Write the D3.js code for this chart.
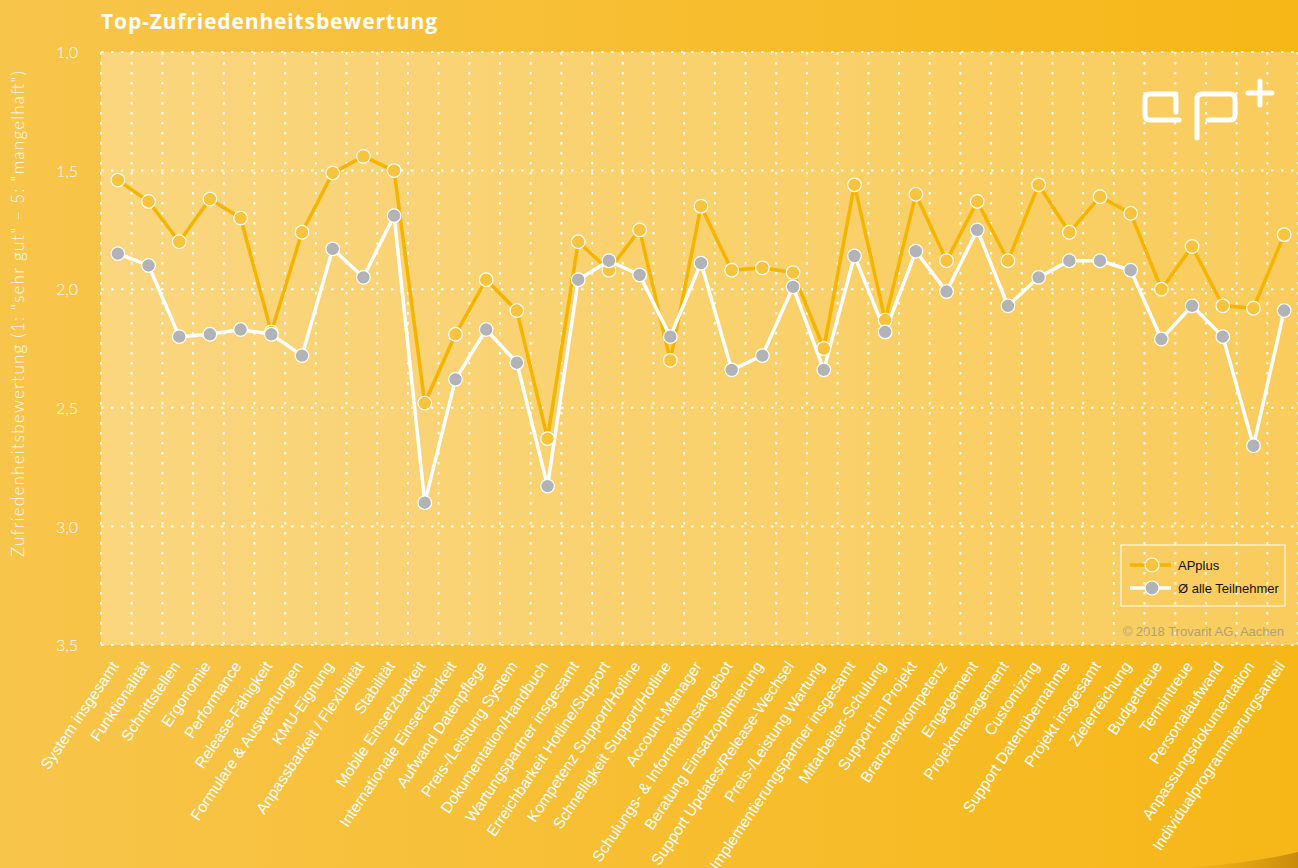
<!DOCTYPE html>
<html>
<head>
<meta charset="utf-8">
<script src="https://cdn.jsdelivr.net/npm/d3@7"></script>
<style>
  html, body { margin: 0; padding: 0; background: #f7bd30; }
  #chart svg { display: block; }
</style>
</head>
<body>
<div id="chart"></div>
<script>
// categories (x axis)
var categories = [
    'System insgesamt', 'Funktionalität', 'Schnittstellen', 'Ergonomie', 'Performance',
    'Release-Fähigkeit', 'Formulare & Auswertungen', 'KMU-Eignung', 'Anpassbarkeit / Flexibilität',
    'Stabilität', 'Mobile Einsetzbarkeit', 'Internationale Einsetzbarkeit', 'Aufwand Datenpflege',
    'Preis-/Leistung System', 'Dokumentation/Handbuch', 'Wartungspartner insgesamt',
    'Erreichbarkeit Hotline/Support', 'Kompetenz Support/Hotline', 'Schnelligkeit Support/Hotline',
    'Account-Manager', 'Schulungs- & Informationsangebot', 'Beratung Einsatzoptimierung',
    'Support Updates/Release-Wechsel', 'Preis-/Leistung Wartung', 'Implementierungspartner insgesamt',
    'Mitarbeiter-Schulung', 'Support im Projekt', 'Branchenkompetenz', 'Engagement',
    'Projektmanagement', 'Customizing', 'Support Datenübernahme', 'Projekt insgesamt',
    'Zielerreichung', 'Budgettreue', 'Termintreue', 'Personalaufwand',
    'Anpassungsdokumentation', 'Individualprogrammierungsanteil'
];

// APplus ratings
var applus = [
    1.54, 1.63, 1.80, 1.62, 1.70, 2.18, 1.76, 1.51, 1.44, 1.50,
    2.48, 2.19, 1.96, 2.09, 2.63, 1.80, 1.92, 1.75, 2.30, 1.65,
    1.92, 1.91, 1.93, 2.25, 1.56, 2.13, 1.60, 1.88, 1.63, 1.88,
    1.56, 1.76, 1.61, 1.68, 2.00, 1.82, 2.07, 2.08, 1.77
];

// average of all participants
var average = [
    1.85, 1.90, 2.20, 2.19, 2.17, 2.19, 2.28, 1.83, 1.95, 1.69,
    2.90, 2.38, 2.17, 2.31, 2.83, 1.96, 1.88, 1.94, 2.20, 1.89,
    2.34, 2.28, 1.99, 2.34, 1.86, 2.18, 1.84, 2.01, 1.75, 2.07,
    1.95, 1.88, 1.88, 1.92, 2.21, 2.07, 2.20, 2.66, 2.09
];

var yTicks      = [1.0, 1.5, 2.0, 2.5, 3.0, 3.5];
var yTickLabels = ['1,0', '1,5', '2,0', '2,5', '3,0', '3,5'];
var seriesNames = ['APplus', 'Ø alle Teilnehmer'];

var title  = 'Top-Zufriedenheitsbewertung';
var yTitle = 'Zufriedenheitsbewertung (1: "sehr gut" – 5: "mangelhaft")';
var credit = '© 2018 Trovarit AG, Aachen';

/*-------------------------------------------------------*/
function main(){
    var W = 1298, H = 868;
    var plot = { left: 101, right: 1298, top: 52, bottom: 645 };

    var orange = '#f5b400', orangeDot = '#f8c43e', grayDot = '#b2b3b6';

    var svg = d3.select('#chart').append('svg')
                .attr('width', W)
                .attr('height', H);

    var defs = svg.append('defs');
    var bg = defs.append('linearGradient').attr('id', 'bg')
                 .attr('x1', 0).attr('x2', 1).attr('y1', 0).attr('y2', 0);
    bg.append('stop').attr('offset', 0).attr('stop-color', '#f8c54b');
    bg.append('stop').attr('offset', 1).attr('stop-color', '#f6b717');

    var curl = defs.append('linearGradient').attr('id', 'curl')
                   .attr('x1', 0).attr('x2', 1).attr('y1', 0).attr('y2', 0);
    curl.append('stop').attr('offset', 0).attr('stop-color', '#c07a00').attr('stop-opacity', 0);
    curl.append('stop').attr('offset', 1).attr('stop-color', '#9a5e00').attr('stop-opacity', 0.5);

    // background + page curl
    svg.append('rect').attr('width', W).attr('height', H).attr('fill', 'url(#bg)');
    svg.append('path')
       .attr('d', 'M1180,868 Q1250,864 1298,852 L1298,868 Z')
       .attr('fill', 'url(#curl)');

    // scales
    var x = d3.scaleBand()
              .domain(categories)
              .range([plot.left, plot.right]);
    var y = d3.scaleLinear()
              .domain([1, 3.5])
              .range([plot.top, plot.bottom]);
    var cx = function(i){ return x(categories[i]) + x.bandwidth() / 2 + 1.5; };

    // plot area
    svg.append('rect')
       .attr('x', plot.left).attr('y', plot.top)
       .attr('width', plot.right - plot.left).attr('height', plot.bottom - plot.top)
       .attr('fill', '#fff').attr('fill-opacity', 0.3);

    // dotted grid
    var grid = svg.append('g')
                  .attr('stroke', '#fff')
                  .attr('stroke-width', 2)
                  .attr('stroke-dasharray', '2.5,7.5');
    grid.selectAll('.hgrid')
        .data(yTicks)
      .enter().append('line')
        .attr('x1', plot.left).attr('x2', plot.right)
        .attr('y1', function(d){ return y(d); })
        .attr('y2', function(d){ return y(d); });
    grid.selectAll('.vgrid')
        .data(categories.concat(['_end']))
      .enter().append('line')
        .attr('x1', function(d, i){ return plot.left + i * x.bandwidth(); })
        .attr('x2', function(d, i){ return plot.left + i * x.bandwidth(); })
        .attr('y1', plot.top).attr('y2', plot.bottom);

    // y axis
    var yAxis = svg.append('g')
                   .attr('transform', 'translate(' + (plot.left - 23) + ',0)')
                   .call(d3.axisLeft(y).tickValues(yTicks)
                           .tickFormat(function(d, i){ return yTickLabels[i]; })
                           .tickSize(0).tickPadding(0));
    yAxis.select('.domain').remove();
    yAxis.selectAll('text')
         .attr('fill', '#fff')
         .attr('font-family', 'Lato, sans-serif')
         .attr('font-weight', 300)
         .attr('font-size', 16)
         .attr('dy', '0.35em');

    svg.append('text')
       .attr('transform', 'translate(24,' + 314 + ') rotate(-90)')
       .attr('text-anchor', 'middle')
       .attr('fill', '#fff')
       .attr('font-family', 'Lato, sans-serif')
       .attr('font-weight', 300)
       .attr('font-size', 17)
       .attr('textLength', 486)
       .attr('lengthAdjust', 'spacing')
       .text(yTitle);

    // x axis labels
    var xAxis = svg.append('g')
                   .attr('transform', 'translate(0,' + plot.bottom + ')')
                   .call(d3.axisBottom(x).tickSize(0).tickPadding(0));
    xAxis.select('.domain').remove();
    xAxis.selectAll('text')
         .attr('fill', '#fff')
         .attr('font-family', 'Liberation Sans, Arial, sans-serif')
         .attr('font-size', 15.5)
         .attr('text-anchor', 'end')
         .attr('transform', 'translate(3,21) rotate(-56)')
         .attr('dy', 0)
         .attr('y', 0);

    // title
    svg.append('text')
       .attr('x', 101).attr('y', 29)
       .attr('fill', '#fff')
       .attr('font-family', 'Open Sans, sans-serif')
       .attr('font-weight', 'bold')
       .attr('font-size', 21)
       .attr('textLength', 336)
       .attr('lengthAdjust', 'spacing')
       .text(title);

    // lines
    var line = function(vals){
        return d3.line()
                 .x(function(d, i){ return cx(i); })
                 .y(function(d){ return y(d); })(vals);
    };
    svg.append('path').attr('d', line(applus))
       .attr('fill', 'none').attr('stroke', orange).attr('stroke-width', 3.5)
       .attr('stroke-linejoin', 'round');
    svg.append('path').attr('d', line(average))
       .attr('fill', 'none').attr('stroke', '#fff').attr('stroke-width', 3.5)
       .attr('stroke-linejoin', 'round');

    // markers (average on top)
    svg.selectAll('.dot-ap')
       .data(applus)
     .enter().append('circle')
       .attr('cx', function(d, i){ return cx(i); })
       .attr('cy', function(d){ return y(d); })
       .attr('r', 6.8)
       .attr('fill', orangeDot).attr('stroke', '#fff').attr('stroke-width', 1.2);
    svg.selectAll('.dot-avg')
       .data(average)
     .enter().append('circle')
       .attr('cx', function(d, i){ return cx(i); })
       .attr('cy', function(d){ return y(d); })
       .attr('r', 6.8)
       .attr('fill', grayDot).attr('stroke', '#fff').attr('stroke-width', 1.2);

    // legend
    var lg = svg.append('g').attr('transform', 'translate(1121,545)');
    lg.append('rect').attr('width', 164).attr('height', 61)
      .attr('fill', 'none').attr('stroke', '#fff').attr('stroke-width', 1);
    var entries = [
        { name: seriesNames[0], stroke: orange, fill: orangeDot },
        { name: seriesNames[1], stroke: '#fff', fill: grayDot }
    ];
    var item = lg.selectAll('.item')
                 .data(entries)
               .enter().append('g')
                 .attr('transform', function(d, i){ return 'translate(0,' + (20 + i * 23) + ')'; });
    item.append('line')
        .attr('x1', 9).attr('x2', 50)
        .attr('stroke', function(d){ return d.stroke; }).attr('stroke-width', 3.5);
    item.append('circle')
        .attr('cx', 31).attr('r', 7)
        .attr('fill', function(d){ return d.fill; })
        .attr('stroke', '#fff').attr('stroke-width', 1.2);
    item.append('text')
        .attr('x', 57).attr('dy', '0.35em')
        .attr('font-family', 'Liberation Sans, Arial, sans-serif')
        .attr('font-size', 13)
        .attr('fill', '#111')
        .text(function(d){ return d.name; });

    svg.append('text')
       .attr('x', 1284).attr('y', 636)
       .attr('text-anchor', 'end')
       .attr('font-family', 'Liberation Sans, Arial, sans-serif')
       .attr('font-size', 13)
       .attr('fill', '#a89a7a')
       .attr('fill-opacity', 0.9)
       .text(credit);

    // ap+ logo
    var logo = svg.append('g')
                  .attr('fill', 'none')
                  .attr('stroke', '#fff')
                  .attr('stroke-width', 5)
                  .attr('stroke-linecap', 'round')
                  .attr('stroke-linejoin', 'round');
    logo.append('path')
        .attr('d', 'M1176,94 L1150,94 Q1145,94 1145,99 L1145,115 Q1145,120 1150,120 L1179,120 M1171,94 Q1176,94 1176,99 L1176,112');
    logo.append('path')
        .attr('d', 'M1197,138 L1197,99 Q1197,94 1202,94 L1230,94 Q1235,94 1235,99 L1235,115 Q1235,120 1230,120 L1208,120');
    logo.append('path').attr('d', 'M1248,93 L1272,93 M1260,81 L1260,105');
}

main();
</script>
</body>
</html>
